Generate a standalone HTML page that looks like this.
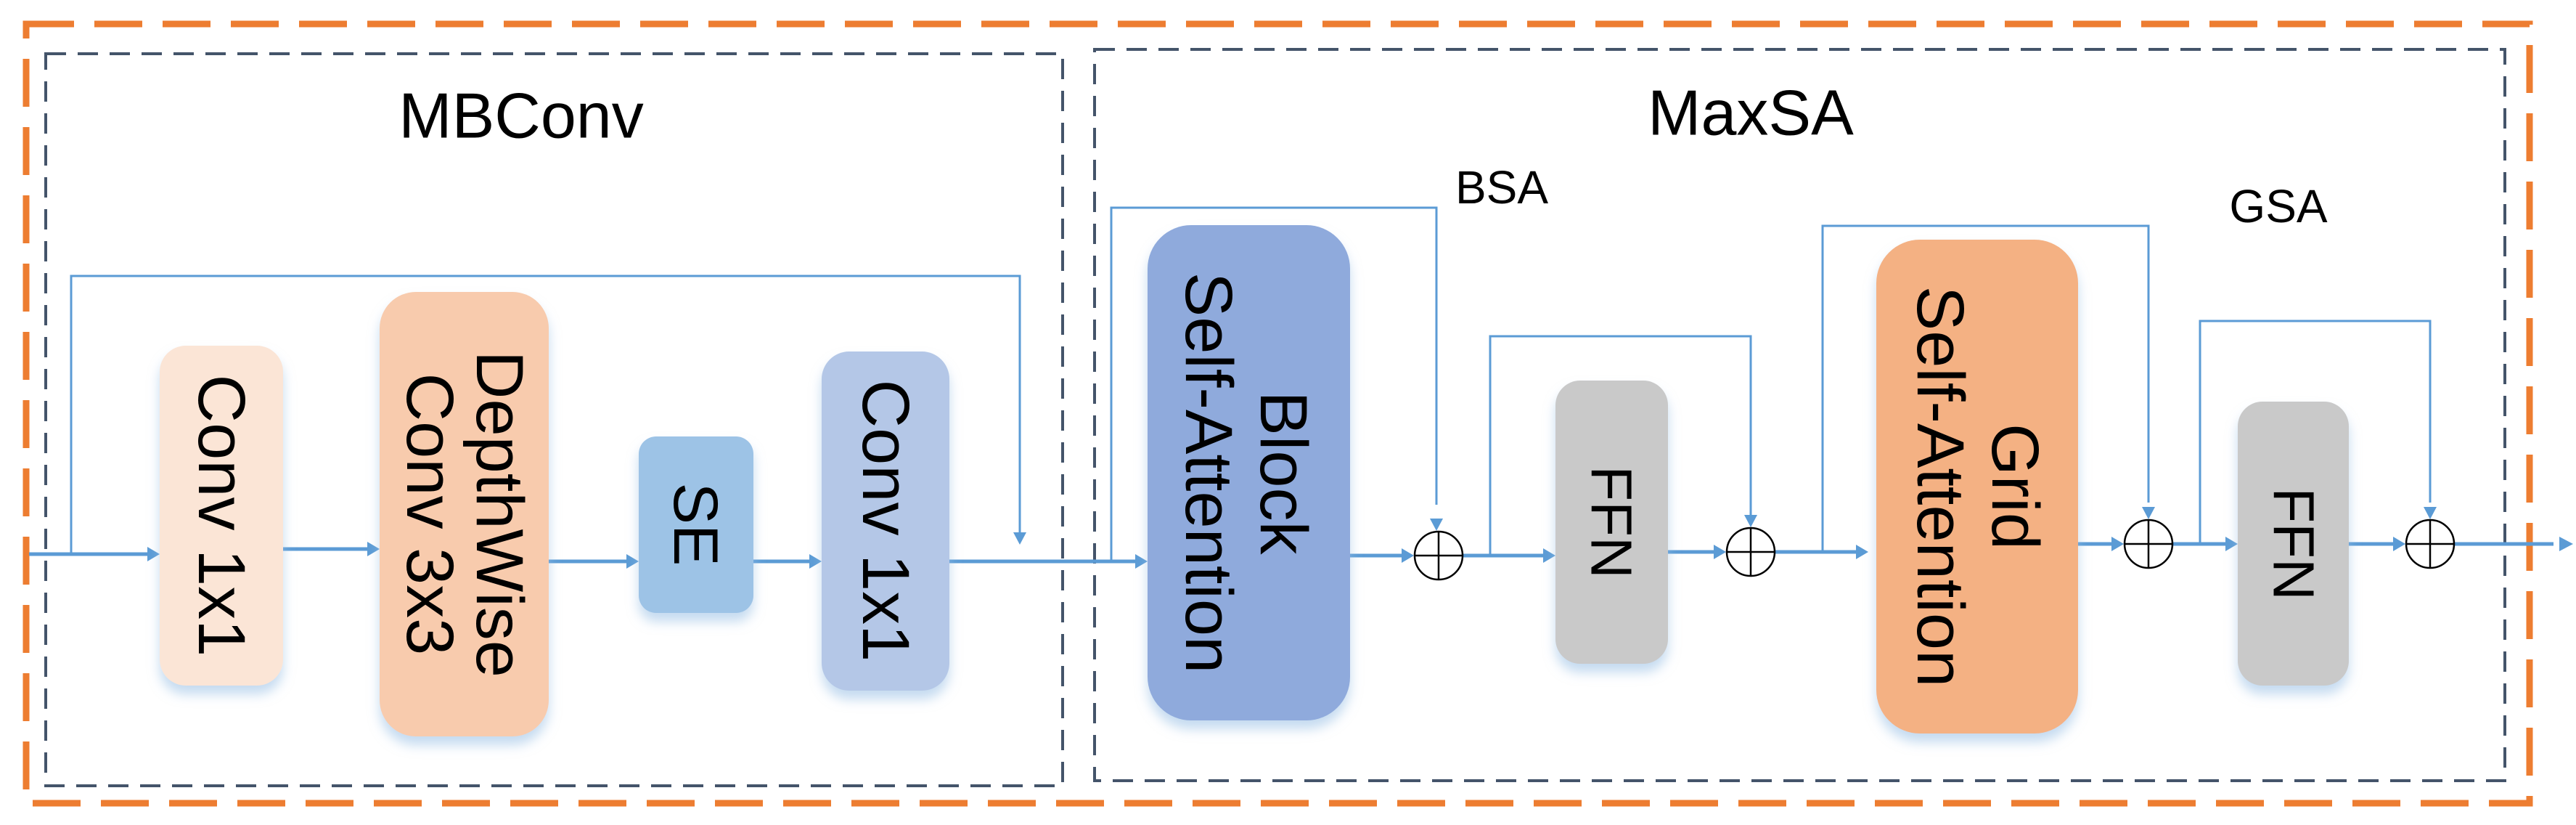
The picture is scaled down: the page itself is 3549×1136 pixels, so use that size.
<!DOCTYPE html>
<html><head><meta charset="utf-8"><style>
html,body{margin:0;padding:0;background:#fff;}
svg{display:block;}
text{font-family:"Liberation Sans",sans-serif;}
</style></head><body>
<svg width="3549" height="1136" viewBox="0 0 3549 1136" xmlns="http://www.w3.org/2000/svg">
<defs>
<marker id="a" markerWidth="10" markerHeight="10" refX="9" refY="5" orient="auto" markerUnits="userSpaceOnUse" viewBox="0 0 10 10">
</marker>
<filter id="s" x="-30%" y="-20%" width="160%" height="150%"><feDropShadow dx="0" dy="12" stdDeviation="8" flood-color="#9dc3e6" flood-opacity="0.6"/></filter>
</defs>
<rect x="36" y="33" width="3449" height="1073" fill="none" stroke="#ed7d31" stroke-width="9" stroke-dasharray="66 28"/>
<rect x="63" y="74" width="1401" height="1008" fill="none" stroke="#44546a" stroke-width="4" stroke-dasharray="28 16"/>
<rect x="1508" y="68" width="1943" height="1007" fill="none" stroke="#44546a" stroke-width="4" stroke-dasharray="28 16"/>
<text x="718" y="159" font-size="88" text-anchor="middle" dominant-baseline="central">MBConv</text>
<text x="2412" y="155" font-size="88" text-anchor="middle" dominant-baseline="central">MaxSA</text>
<text x="2069" y="258" font-size="64" text-anchor="middle" dominant-baseline="central">BSA</text>
<text x="3139" y="284" font-size="64" text-anchor="middle" dominant-baseline="central">GSA</text>

<g stroke="#5b9bd5" fill="none">
<polyline points="98,763 98,380 1405,380 1405,735" stroke-width="3"/>
<line x1="40" y1="763" x2="205" y2="763" stroke-width="5"/>
<line x1="390" y1="756" x2="510" y2="756" stroke-width="5"/>
<line x1="756" y1="773" x2="865" y2="773" stroke-width="5"/>
<line x1="1038" y1="773" x2="1118" y2="773" stroke-width="5"/>
<line x1="1308" y1="773" x2="1565" y2="773" stroke-width="5"/>
<polyline points="1531,773 1531,286 1979,286 1979,695" stroke-width="3"/>
<line x1="1860" y1="765" x2="1935" y2="765" stroke-width="5"/>
<line x1="2016" y1="765" x2="2128" y2="765" stroke-width="5"/>
<polyline points="2053,765 2053,463 2412,463 2412,720" stroke-width="3"/>
<line x1="2298" y1="760" x2="2365" y2="760" stroke-width="5"/>
<line x1="2446" y1="760" x2="2560" y2="760" stroke-width="5"/>
<polyline points="2511,760 2511,311 2960,311 2960,692" stroke-width="3"/>
<line x1="2863" y1="749" x2="2913" y2="749" stroke-width="5"/>
<line x1="2994" y1="749" x2="3068" y2="749" stroke-width="5"/>
<polyline points="3031,749 3031,442 3348,442 3348,692" stroke-width="3"/>
<line x1="3236" y1="749" x2="3302" y2="749" stroke-width="5"/>
<line x1="3382" y1="749" x2="3518" y2="749" stroke-width="5"/>
</g>
<g fill="#5b9bd5">
<polygon points="220,763 203,753 203,773"/>
<polygon points="523,756 506,746 506,766"/>
<polygon points="880,773 863,763 863,783"/>
<polygon points="1132,773 1115,763 1115,783"/>
<polygon points="1405,750 1396,733 1414,733"/>
<polygon points="1581,773 1564,763 1564,783"/>
<polygon points="1948,765 1931,755 1931,775"/>
<polygon points="2143,765 2126,755 2126,775"/>
<polygon points="1979,731 1970,714 1988,714"/>
<polygon points="2378,760 2361,750 2361,770"/>
<polygon points="2412,726 2403,709 2421,709"/>
<polygon points="2574,760 2557,750 2557,770"/>
<polygon points="2960,715 2951,698 2969,698"/>
<polygon points="2926,749 2909,739 2909,759"/>
<polygon points="3083,749 3066,739 3066,759"/>
<polygon points="3348,715 3339,698 3357,698"/>
<polygon points="3314,749 3297,739 3297,759"/>
<polygon points="3545,749 3526,739 3526,759"/>
</g>

<g filter="url(#s)">
<rect x="220" y="476" width="170" height="468" rx="36" fill="#fbe5d6"/>
<rect x="523" y="402" width="233" height="612" rx="50" fill="#f8cbad"/>
<rect x="880" y="601" width="158" height="243" rx="24" fill="#9dc3e6"/>
<rect x="1132" y="484" width="176" height="467" rx="38" fill="#b4c7e7"/>
<rect x="1581" y="310" width="279" height="682" rx="60" fill="#8faadc"/>
<rect x="2143" y="524" width="155" height="390" rx="34" fill="#c9c9c9"/>
<rect x="2585" y="330" width="278" height="680" rx="60" fill="#f4b183"/>
<rect x="3083" y="553" width="153" height="391" rx="34" fill="#c9c9c9"/>
</g>

<g stroke="#000" stroke-width="2.5" fill="#fff">
<circle cx="1982" cy="765" r="33"/><path d="M1949 765H2015M1982 732V798" fill="none"/>
<circle cx="2412" cy="760" r="33"/><path d="M2379 760H2445M2412 727V793" fill="none"/>
<circle cx="2960" cy="749" r="33"/><path d="M2927 749H2993M2960 716V782" fill="none"/>
<circle cx="3348" cy="749" r="33"/><path d="M3315 749H3381M3348 716V782" fill="none"/>
</g>

<g font-size="92" text-anchor="middle" dominant-baseline="central">
<text transform="translate(305,710) rotate(90)">Conv 1x1</text>
<text transform="translate(688,708) rotate(90)">DepthWise</text>
<text transform="translate(592,708) rotate(90)">Conv 3x3</text>
<text transform="translate(958,722) rotate(90)" font-size="86">SE</text>
<text transform="translate(1220,717) rotate(90)">Conv 1x1</text>
<text transform="translate(1768,651) rotate(90)">Block</text>
<text transform="translate(1665,651) rotate(90)">Self-Attention</text>
<text transform="translate(2220,719) rotate(90)" font-size="80">FFN</text>
<text transform="translate(2776,670) rotate(90)">Grid</text>
<text transform="translate(2673,670) rotate(90)">Self-Attention</text>
<text transform="translate(3160,749) rotate(90)" font-size="80">FFN</text>
</g>
</svg>
</body></html>
